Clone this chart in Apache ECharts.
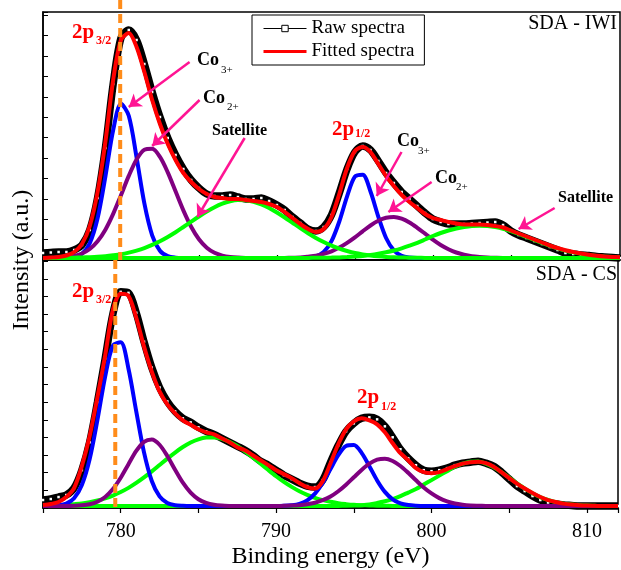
<!DOCTYPE html>
<html>
<head>
<meta charset="utf-8">
<script src="https://cdn.jsdelivr.net/npm/echarts@6/dist/echarts.min.js"></script>
<style>
  html, body { margin: 0; padding: 0; background: #fff; }
  #chart { width: 621px; height: 570px; }
</style>
</head>
<body>
<div id="chart"></div>
<script>
// binding energy grid (eV), shared by both panels
const energy = [
  775,775.5,776,776.5,777,777.5,778,778.5,779,779.5,
  780,780.5,781,781.5,782,782.5,783,783.5,784,784.5,
  785,785.5,786,786.5,787,787.5,788,788.5,789,789.5,
  790,790.5,791,791.5,792,792.5,793,793.5,794,794.5,
  795,795.5,796,796.5,797,797.5,798,798.5,799,799.5,
  800,800.5,801,801.5,802,802.5,803,803.5,804,804.5,
  805,805.5,806,806.5,807,807.5,808,808.5,809,809.5,
  810,810.5,811,811.5,812
];

// ---- SDA - IWI (top panel) ----
const rawIwi = [
  7,7.5,8,8,10,15,30,62,112,176,
  222,230,220,196,168,143,122,105,91,80,
  72,66,64,64,65,63,61,61,62,59,
  55,50,43,37,31,29,33,45,67,91,
  108,114,110,99,87,77,68,61,54,47,
  41,38,36,36,36,36.5,37,37.5,38,35,
  29,25,22,19,16,13,10,7,6,5,
  4.5,3.5,3,2.5,2
];
const fitIwi = [
  2,2.5,3,4.5,8,16,34,68,118,180,
  220,227,213,188,160,136,116,100,87,78,
  71,66,63,62,61,61,60,59,58,56,
  53,48,42,36,31,28,31,43,66,92,
  109,113,108,96,84,74,65,58,52,46,
  42,40,38,36.5,35.5,35.5,35.5,35,34,32.5,
  29.5,26.5,23.5,20.5,17.5,14.5,12,9.8,8,6.5,
  5.2,4.3,3.6,3.1,2.7
];
const co3Iwi = [
  2,2,2,2,2.9,6.2,16.8,41.7,83.4,130,
  156.2,144.3,102.7,56.6,24.7,9.2,3.8,2.3,2,2,
  2,2,2,2,2,2,2,2,2,2,
  2,2,2,2,2.4,3.7,8,18.8,38.5,63.7,
  83.3,85.3,68.5,43.4,22,9.6,4.2,2.5,2,2,
  2,2,2,2,2,2,2,2,2,2,
  2,2,2,2,2,2,2,2,2,2,
  2,2,2,2,2
];
const co2Iwi = [
  2,2.1,2.3,2.9,4,6.5,11,18.7,30.3,46.1,
  64.8,84.1,100.5,110.3,111.2,103.1,87.7,68.7,49.6,33.2,
  20.7,12.3,7.2,4.4,3,2.4,2.1,2,2,2,
  2,2.1,2.3,2.5,3.3,4.3,6.1,8.7,12.4,17.1,
  22.6,28.7,34.5,39.2,42.2,43,41.3,37.5,32.2,26.3,
  20.3,15,10.8,7.5,5.3,3.8,3,2.5,2.2,2,
  2,2,2,2,2,2,2,2,2,2,
  2,2,2,2,2
];
const sat1Iwi = [
  2,2,2.1,2.2,2.3,2.5,2.8,3.2,3.8,4.7,
  5.8,7.4,9.4,11.9,15.1,18.8,23.1,27.8,33,38.3,
  43.5,48.4,52.8,56.3,58.7,59.9,59.8,58.3,55.7,52,
  47.5,42.5,37.2,31.9,26.8,22.1,18,14.4,11.4,9,
  7,5.6,4.5,3.7,3.1,2.7,2.5,2.3,2.2,2.1,
  2,2,2,2,2,2,2,2,2,2,
  2,2,2,2,2,2,2,2,2,2,
  2,2,2,2,2
];
const sat2Iwi = [
  2,2,2,2,2,2,2,2,2,2,
  2,2,2,2,2,2,2,2,2,2,
  2,2,2,2,2,2,2,2,2,2,
  2,2,2,2,2.1,2.2,2.3,2.4,2.6,3,
  3.5,4.1,5,6.2,7.7,9.5,11.7,14.3,17.1,20.5,
  24,27,29.5,31.5,33,34,34.3,34,33,31.3,
  28.8,26,23,20,17,14.2,11.6,9.4,7.6,6.1,
  4.9,4,3.4,2.9,2.5
];

// ---- SDA - CS (bottom panel) ----
const rawCs = [
  8,9,11,13,20,38,66,106,150,195,
  217,216,196,167,141,121,107,97,90,86,
  81,77,74,70,66,62,58,53,47,43,
  38,33,29,25,22,21,28,46,63,77,
  85,90,91,89,82,71,59,50,43,38,
  37,38,40,43,45,46,47,45,42,36,
  29,22,17,12,8,5.5,4,3,2.5,2,
  2,2,2,2,2
];
const fitCs = [
  3,4,6,11,20,42,72,111,153,199,
  215,213,191,162,137,117,104,95,88,83.5,
  79,76,74,70,66,61,58,53,48,43,
  38,34,30,25,21,19.5,27,45,64,79,
  87,90,88,84,76,65,55,48,40,36,
  35,36,39,42,44.5,46,46.5,45,41.5,36,
  30,24.5,19.5,15,11,8,6,4.4,3.4,2.8,
  2.4,2.2,2,2,2
];
const co3Cs = [
  2,2,2.6,4.4,9.7,23,48.9,88.2,132,163.2,
  166.4,139.8,97,55.8,27.1,11.6,5,2.8,2.2,2,
  2,2,2,2,2,2,2,2,2,2,
  2,2.2,2.8,4.2,7.7,14.4,25.1,39.1,53,62.3,
  63.2,55.4,42,27.7,16.2,8.7,4.7,3,2.3,2,
  2,2,2,2,2,2,2,2,2,2,
  2,2,2,2,2,2,2,2,2,2,
  2,2,2,2,2
];
const co2Cs = [
  2,2,2,2,2.2,2.7,3.8,6.3,11.1,19,
  30.4,44,57.3,66.5,68.8,63.5,52.2,38.4,25.4,15.4,
  8.8,5.1,3.2,2.4,2.1,2,2,2,2,2,
  2,2.2,2.4,2.8,3.7,5.3,7.8,11.5,16.8,23.4,
  30.8,38.2,44.5,48.5,49.5,47.2,42.2,35.3,27.8,20.6,
  14.6,9.9,6.6,4.5,3.3,2.6,2.3,2.1,2,2,
  2,2,2,2,2,2,2,2,2,2,
  2,2,2,2,2
];
const sat1Cs = [
  2.3,2.5,2.7,3.1,3.8,4.6,5.9,7.5,9.7,12.5,
  16,20.2,25.2,30.7,36.8,43.2,49.6,55.7,61.2,65.7,
  68.9,70.7,70.9,69.4,66.4,62.2,56.9,50.8,44.5,38.1,
  31.9,26.2,21.2,16.8,13.2,10.2,7.9,6.2,4.8,3.9,
  3.2,2.8,2.5,2.3,2.2,2.1,2,2,2,2,
  2,2,2,2,2,2,2,2,2,2,
  2,2,2,2,2,2,2,2,2,2,
  2,2,2,2,2
];
const sat2Cs = [
  2,2,2,2,2,2,2,2,2,2,
  2,2,2,2,2,2,2,2,2,2,
  2,2,2,2,2,2,2,2,2,2,
  2,2,2,2,2,2,2,2,2.1,2.2,
  2.4,2.8,3.5,5,6.8,9,12,15.5,19,23.5,
  28,32.5,37,41.5,44.5,46.5,46.6,44.6,40.9,36,
  30.4,24.8,19.5,14.9,11,8.1,5.9,4.4,3.4,2.8,
  2.4,2.2,2,2,2
];

// 2p3/2 reference positions (orange dashed lines)
const dashTop = 779.95;
const dashBottom = 779.65;

// arrows in the top panel: [from, to] in data units
const arrowsIwi = [
  [[784.4, 198], [780.5, 153]],
  [[785.04, 160], [782.0, 114]],
  [[787.93, 122], [784.9, 43]],
  [[797.99, 108], [796.4, 64]],
  [[799.92, 78], [797.15, 48]],
  [[807.81, 52], [805.5, 31]]
];

const FONT = 'Liberation Serif';
const chart = echarts.init(document.getElementById('chart'));
const pts = vals => energy.map((e, i) => [e, vals[i]]);

function comp(name, vals, color, gi, z) {
  return {
    name, type: 'line', xAxisIndex: gi, yAxisIndex: gi,
    data: pts(vals), smooth: 0.3, symbol: 'none', silent: true, z,
    lineStyle: { color, width: 4 }, itemStyle: { color }
  };
}
function raw(vals, gi) {
  return {
    name: 'Raw spectra', type: 'line', xAxisIndex: gi, yAxisIndex: gi,
    data: pts(vals), smooth: 0.3, symbol: 'rect', symbolSize: 2.5,
    showSymbol: true, showAllSymbol: true, silent: true, z: 2,
    lineStyle: { color: '#000', width: 7.5 },
    itemStyle: { color: '#fff', borderWidth: 0 }
  };
}

const xBase = {
  type: 'value', min: 775, max: 812, interval: 5,
  axisLine: { show: true, lineStyle: { color: '#000', width: 1.5 } },
  axisTick: { show: true, inside: false, length: 5, lineStyle: { color: '#000', width: 1.2 } },
  splitLine: { show: false }
};
const yBase = {
  type: 'value', min: 0,
  axisLine: { show: true, lineStyle: { color: '#000', width: 1.5 } },
  axisTick: { show: true, inside: true, length: 5, lineStyle: { color: '#000', width: 1 } },
  axisLabel: { show: false },
  splitLine: { show: false }
};

chart.setOption({
  animation: false,
  backgroundColor: '#fff',
  textStyle: { fontFamily: FONT },
  grid: [
    { left: 43, right: 1, top: 12, height: 248, show: true, borderColor: '#000', borderWidth: 1.5 },
    { left: 43, right: 1, top: 260, height: 249, show: true, borderColor: '#000', borderWidth: 1.5 }
  ],
  xAxis: [
    Object.assign({}, xBase, { gridIndex: 0, position: 'top', axisLabel: { show: false } }),
    Object.assign({}, xBase, {
      gridIndex: 1, position: 'bottom',
      axisLabel: {
        show: true, margin: 14, fontSize: 20, fontFamily: FONT, color: '#000',
        formatter: v => (v % 10 === 0 ? String(v) : '')
      },
      name: 'Binding energy (eV)', nameLocation: 'middle', nameGap: 37,
      nameTextStyle: { fontSize: 24, fontFamily: FONT, color: '#000' }
    })
  ],
  yAxis: [
    Object.assign({}, yBase, { gridIndex: 0, max: 248, interval: 20.4 }),
    Object.assign({}, yBase, { gridIndex: 1, max: 249, interval: 17.7 })
  ],
  legend: {
    left: 252, top: 15, orient: 'vertical',
    itemWidth: 43, itemHeight: 8, itemGap: 4,
    padding: [4, 10, 4, 10],
    borderColor: '#000', borderWidth: 1, backgroundColor: '#fff',
    selectedMode: false,
    textStyle: { fontFamily: FONT, fontSize: 19, color: '#000' },
    data: [
      { name: 'Raw spectra', lineStyle: { width: 1, color: '#000' },
        itemStyle: { color: '#fff', borderColor: '#000', borderWidth: 1 } },
      { name: 'Fitted spectra', lineStyle: { width: 3, color: '#ff0000' },
        itemStyle: { opacity: 0 } }
    ]
  },
  series: [
    // top panel
    raw(rawIwi, 0),
    comp('Co3+', co3Iwi, '#0000ff', 0, 3),
    comp('Co2+', co2Iwi, '#800080', 0, 3),
    comp('Satellite 1', sat1Iwi, '#00ff00', 0, 3),
    comp('Satellite 2', sat2Iwi, '#00ff00', 0, 3),
    comp('Fitted spectra', fitIwi, '#ff0000', 0, 4),
    {
      name: 'arrows', type: 'line', xAxisIndex: 0, yAxisIndex: 0,
      data: [], symbol: 'none', silent: true, z: 6,
      markLine: {
        silent: true, symbol: ['none', 'arrow'], symbolSize: 12,
        label: { show: false },
        lineStyle: { color: '#ff1493', width: 2.5, type: 'solid' },
        emphasis: { disabled: true },
        data: arrowsIwi.map(a => [{ coord: a[0] }, { coord: a[1] }])
      }
    },
    // bottom panel
    raw(rawCs, 1),
    comp('Satellite 1', sat1Cs, '#00ff00', 1, 3),
    comp('Satellite 2', sat2Cs, '#00ff00', 1, 3),
    comp('Co3+', co3Cs, '#0000ff', 1, 3),
    comp('Co2+', co2Cs, '#800080', 1, 3),
    comp('Fitted spectra', fitCs, '#ff0000', 1, 4)
  ]
});

// orange dashed markers, placed through the axes
const xt = chart.convertToPixel({ xAxisIndex: 0 }, dashTop);
const xb = chart.convertToPixel({ xAxisIndex: 1 }, dashBottom);
const yTop0 = chart.convertToPixel({ yAxisIndex: 0 }, 0);
const yBot0 = chart.convertToPixel({ yAxisIndex: 1 }, 0);
const yBotMax = chart.convertToPixel({ yAxisIndex: 1 }, 249);

function txt(text, x, y, size, opts) {
  opts = opts || {};
  return {
    type: 'text', z: 100, silent: true,
    style: {
      text, x, y,
      fontSize: size, fontFamily: FONT,
      fontWeight: opts.bold ? 'bold' : 'normal',
      fill: opts.color || '#000',
      align: opts.align || 'left', verticalAlign: 'middle'
    }
  };
}
const dash = { stroke: '#ff8c1a', lineWidth: 4, lineDash: [9, 5] };

chart.setOption({
  graphic: [
    { type: 'line', z: 90, silent: true, shape: { x1: xt, y1: 0, x2: xt, y2: yTop0 }, style: dash },
    { type: 'line', z: 90, silent: true, shape: { x1: xb, y1: yBotMax, x2: xb, y2: yBot0 }, style: dash },
    // axis title
    {
      type: 'text', z: 100, silent: true, x: 22, y: 260, rotation: Math.PI / 2,
      style: { text: 'Intensity (a.u.)', fontSize: 24, fontFamily: FONT, fill: '#000',
               align: 'center', verticalAlign: 'middle' }
    },
    // top panel labels
    txt('SDA - IWI', 617, 24, 20, { align: 'right' }),
    txt('2p', 72, 33, 21, { bold: true, color: '#ff0000' }),
    txt('3/2', 96, 41, 12, { bold: true, color: '#ff0000' }),
    txt('Co', 197, 60, 18, { bold: true }),
    txt('3+', 221, 70, 11),
    txt('Co', 203, 98, 18, { bold: true }),
    txt('2+', 227, 107.5, 11),
    txt('Satellite', 212, 131, 16, { bold: true }),
    txt('2p', 332, 129.5, 21, { bold: true, color: '#ff0000' }),
    txt('1/2', 355, 134, 12, { bold: true, color: '#ff0000' }),
    txt('Co', 397, 141.5, 18, { bold: true }),
    txt('3+', 418, 151, 11),
    txt('Co', 435, 178.5, 18, { bold: true }),
    txt('2+', 456, 187.5, 11),
    txt('Satellite', 558, 197.5, 16, { bold: true }),
    // bottom panel labels
    txt('SDA - CS', 617, 275, 20, { align: 'right' }),
    txt('2p', 72, 292, 21, { bold: true, color: '#ff0000' }),
    txt('3/2', 96, 299.5, 12, { bold: true, color: '#ff0000' }),
    txt('2p', 357, 398, 21, { bold: true, color: '#ff0000' }),
    txt('1/2', 381, 407, 12, { bold: true, color: '#ff0000' })
  ]
});
</script>
</body>
</html>
